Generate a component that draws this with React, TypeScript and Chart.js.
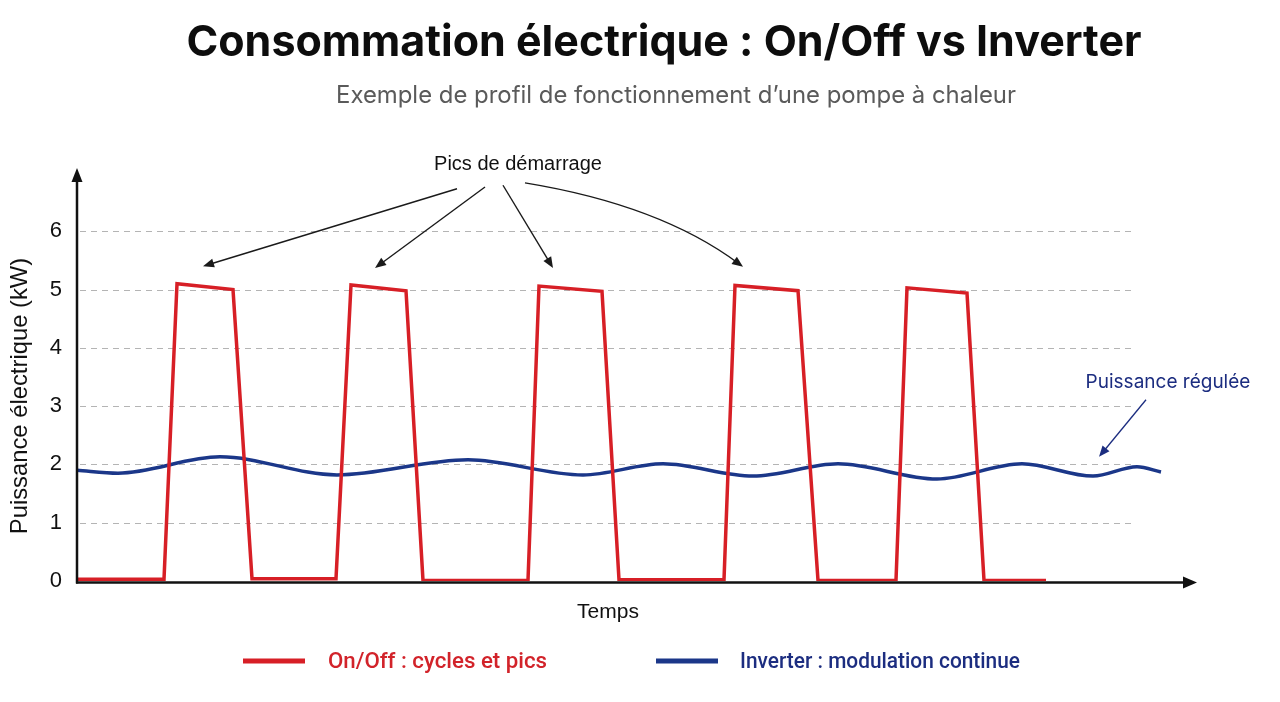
import React, { useEffect, useRef } from "react";
import { Chart, registerables } from "chart.js";

Chart.register(...registerables);

// ---------- texts ----------
const TITLE = "Consommation électrique : On/Off vs Inverter";
const SUBTITLE = "Exemple de profil de fonctionnement d’une pompe à chaleur";
const Y_TITLE = "Puissance électrique (kW)";
const X_TITLE = "Temps";
const ON_OFF_LABEL = "On/Off : cycles et pics";
const INVERTER_LABEL = "Inverter : modulation continue";
const PEAK_NOTE = "Pics de démarrage";
const REG_NOTE = "Puissance régulée";

// ---------- axes ----------
const Y_TICKS = [0, 1, 2, 3, 4, 5, 6];
const Y_MAX = 7;
const X_MAX = 111.8;

// ---------- series (time units, kW) ----------
const ON_OFF_T = [0, 8.7, 10.0, 15.6, 17.5, 25.9, 27.4, 32.9, 34.6, 45.1, 46.2, 52.5, 54.2, 64.7, 65.8, 72.1, 74.1, 81.9, 83.0, 89.0, 90.7, 96.9];
const ON_OFF_KW = [0.03, 0.03, 5.1, 5.0, 0.04, 0.04, 5.08, 4.98, 0.01, 0.01, 5.06, 4.97, 0.02, 0.02, 5.07, 4.98, 0.01, 0.01, 5.03, 4.94, 0.01, 0.01];

const INV_T = [0, 4.1, 14.3, 26.0, 39.1, 50.6, 58.6, 67.6, 76.1, 86.0, 94.5, 101.6, 106.0, 108.4];
const INV_KW = [1.9, 1.85, 2.13, 1.82, 2.08, 1.82, 2.01, 1.8, 2.01, 1.75, 2.01, 1.8, 1.96, 1.87];

// ---------- annotations (data units) ----------
const PEAK_NOTE_POS = [44.1, 7.14];
// [fromT, fromKW, toT, toKW, ctrlT|null, ctrlKW|null]
const PEAK_ARROWS = [
  [38.0, 6.73, 12.6, 5.4, null, null],
  [40.8, 6.76, 29.8, 5.37, null, null],
  [42.6, 6.79, 47.6, 5.37, null, null],
  [44.8, 6.83, 66.6, 5.39, 58.3, 6.45],
];
const REG_NOTE_POS = [109.1, 3.41];
const REG_ARROW = [106.9, 3.11, 102.2, 2.13];

const RED = "#d71f26";
const NAVY = "#1b3789";
const RED_TEXT = "#d2232a";
const NAVY_TEXT = "#1c2d80";

function arrowHead(ctx: CanvasRenderingContext2D, tx: number, ty: number, fx: number, fy: number, len: number, hw: number, color: string) {
  const a = Math.atan2(ty - fy, tx - fx);
  const bx = tx - Math.cos(a) * len;
  const by = ty - Math.sin(a) * len;
  const nx = -Math.sin(a) * hw;
  const ny = Math.cos(a) * hw;
  ctx.beginPath();
  ctx.moveTo(tx, ty);
  ctx.lineTo(bx + nx, by + ny);
  ctx.lineTo(bx - nx, by - ny);
  ctx.closePath();
  ctx.fillStyle = color;
  ctx.fill();
}

function fitText(ctx: CanvasRenderingContext2D, text: string, x: number, y: number, targetW: number) {
  const w = ctx.measureText(text).width;
  ctx.save();
  ctx.translate(x, y);
  ctx.scale(targetW / w, 1);
  ctx.fillText(text, 0, 0);
  ctx.restore();
}

const overlay = {
  id: "overlay",
  beforeDraw(chart: any) {
    const ctx = chart.ctx;
    ctx.save();
    ctx.fillStyle = "#ffffff";
    ctx.fillRect(0, 0, chart.width, chart.height);
    ctx.restore();
  },
  beforeDatasetsDraw(chart: any) {
    const ctx = chart.ctx;
    const xs = chart.scales.x;
    const ys = chart.scales.y;
    const left = chart.chartArea.left;
    const right = xs.getPixelForValue(105.6);
    ctx.save();
    ctx.strokeStyle = "#b4b4b4";
    ctx.lineWidth = 1;
    ctx.setLineDash([6, 5]);
    for (const v of Y_TICKS) {
      if (v === 0) continue;
      const y = Math.round(ys.getPixelForValue(v)) + 0.5;
      ctx.beginPath();
      ctx.moveTo(left + 3, y);
      ctx.lineTo(right, y);
      ctx.stroke();
    }
    ctx.restore();
  },
  afterDatasetsDraw(chart: any) {
    const ctx = chart.ctx;
    const xs = chart.scales.x;
    const ys = chart.scales.y;
    const ca = chart.chartArea;
    const px = (t: number) => xs.getPixelForValue(t);
    const py = (v: number) => ys.getPixelForValue(v);

    ctx.save();
    // axes with arrows
    const axisY = ca.bottom + 1.5;
    ctx.strokeStyle = "#111";
    ctx.lineWidth = 2.5;
    ctx.beginPath();
    ctx.moveTo(ca.left, axisY + 1);
    ctx.lineTo(ca.left, ca.top + 6);
    ctx.stroke();
    arrowHead(ctx, ca.left, ca.top - 5, ca.left, ca.top + 20, 14, 5.5, "#111");
    ctx.beginPath();
    ctx.moveTo(ca.left - 1, axisY);
    ctx.lineTo(ca.right - 8, axisY);
    ctx.stroke();
    arrowHead(ctx, ca.right + 2, axisY, ca.left, axisY, 14, 6, "#111");

    // peak annotation
    ctx.fillStyle = "#111";
    ctx.font = "20px 'Liberation Sans', Arial, sans-serif";
    ctx.textAlign = "center";
    ctx.textBaseline = "middle";
    ctx.fillText(PEAK_NOTE, px(PEAK_NOTE_POS[0]), py(PEAK_NOTE_POS[1]));
    ctx.strokeStyle = "#1a1a1a";
    ctx.lineWidth = 1.4;
    for (const a of PEAK_ARROWS) {
      const fx = px(a[0] as number), fy = py(a[1] as number);
      const tx = px(a[2] as number), ty = py(a[3] as number);
      let cx = fx, cy = fy;
      ctx.beginPath();
      ctx.moveTo(fx, fy);
      if (a[4] !== null) {
        cx = px(a[4] as number);
        cy = py(a[5] as number);
        const ang = Math.atan2(ty - cy, tx - cx);
        ctx.quadraticCurveTo(cx, cy, tx - Math.cos(ang) * 6, ty - Math.sin(ang) * 6);
      } else {
        const ang = Math.atan2(ty - fy, tx - fx);
        ctx.lineTo(tx - Math.cos(ang) * 6, ty - Math.sin(ang) * 6);
      }
      ctx.stroke();
      arrowHead(ctx, tx, ty, cx, cy, 11, 4.5, "#1a1a1a");
    }

    // regulated power annotation
    ctx.fillStyle = NAVY_TEXT;
    ctx.font = "19px Inter, 'Noto Sans', sans-serif";
    ctx.fillText(REG_NOTE, px(REG_NOTE_POS[0]), py(REG_NOTE_POS[1]));
    {
      const fx = px(REG_ARROW[0]), fy = py(REG_ARROW[1]);
      const tx = px(REG_ARROW[2]), ty = py(REG_ARROW[3]);
      const ang = Math.atan2(ty - fy, tx - fx);
      ctx.strokeStyle = NAVY_TEXT;
      ctx.lineWidth = 1.3;
      ctx.beginPath();
      ctx.moveTo(fx, fy);
      ctx.lineTo(tx - Math.cos(ang) * 6, ty - Math.sin(ang) * 6);
      ctx.stroke();
      arrowHead(ctx, tx, ty, fx, fy, 11, 4.5, NAVY_TEXT);
    }

    // axis titles
    ctx.fillStyle = "#111";
    ctx.font = "21px 'Liberation Sans', Arial, sans-serif";
    ctx.fillText(X_TITLE, 608, 612);
    ctx.save();
    ctx.translate(20, 396);
    ctx.rotate(-Math.PI / 2);
    ctx.font = "23.8px 'Liberation Sans', Arial, sans-serif";
    ctx.fillText(Y_TITLE, 0, 0);
    ctx.restore();

    // title / subtitle
    ctx.fillStyle = "#0d0d0d";
    ctx.font = "700 43px Inter, 'Noto Sans', sans-serif";
    ctx.fillText(TITLE, 664, 43);
    ctx.fillStyle = "#5a5a5a";
    ctx.font = "400 23.9px Inter, 'Noto Sans', sans-serif";
    ctx.fillText(SUBTITLE, 676, 96);

    // legend
    ctx.lineCap = "butt";
    ctx.lineWidth = 5;
    ctx.strokeStyle = RED;
    ctx.beginPath();
    ctx.moveTo(243, 661);
    ctx.lineTo(305, 661);
    ctx.stroke();
    ctx.strokeStyle = NAVY;
    ctx.beginPath();
    ctx.moveTo(656, 661);
    ctx.lineTo(718, 661);
    ctx.stroke();
    ctx.textAlign = "left";
    ctx.font = "500 22px Roboto, sans-serif";
    ctx.fillStyle = RED_TEXT;
    fitText(ctx, ON_OFF_LABEL, 328, 662, 219);
    ctx.fillStyle = NAVY_TEXT;
    fitText(ctx, INVERTER_LABEL, 740, 662, 280);

    ctx.restore();
  },
};

export default function App() {
  const ref = useRef<HTMLCanvasElement | null>(null);
  useEffect(() => {
    if (!ref.current) return;
    const chart = new Chart(ref.current, {
      type: "line",
      data: {
        datasets: [
          {
            label: ON_OFF_LABEL,
            data: ON_OFF_T.map((t, i) => ({ x: t, y: ON_OFF_KW[i] })),
            borderColor: RED,
            backgroundColor: RED,
            borderWidth: 3.5,
            pointRadius: 0,
            tension: 0,
            borderJoinStyle: "miter",
            fill: false,
          },
          {
            label: INVERTER_LABEL,
            data: INV_T.map((t, i) => ({ x: t, y: INV_KW[i] })),
            borderColor: NAVY,
            backgroundColor: NAVY,
            borderWidth: 3.5,
            pointRadius: 0,
            cubicInterpolationMode: "monotone",
            fill: false,
          },
        ],
      },
      options: {
        responsive: false,
        animation: false,
        layout: { padding: { top: 173, bottom: 121, left: 0, right: 85 } },
        plugins: {
          legend: { display: false },
          tooltip: { enabled: false },
          title: { display: false },
        },
        scales: {
          x: { type: "linear", min: 0, max: X_MAX, display: false },
          y: {
            type: "linear",
            min: 0,
            max: Y_MAX,
            grid: { display: false, drawTicks: false },
            border: { display: false },
            ticks: {
              stepSize: 1,
              padding: 15,
              color: "#111",
              font: { family: "'Liberation Sans', Arial, sans-serif", size: 22 },
            },
            afterBuildTicks: (s: any) => {
              s.ticks = Y_TICKS.map((v) => ({ value: v }));
            },
            afterFit: (s: any) => {
              s.width = 77;
            },
          },
        },
      } as any,
      plugins: [overlay],
    });
    return () => chart.destroy();
  }, []);
  return (
    <div style={{ position: "fixed", left: 0, top: 0, width: 1280, height: 702, background: "#fff" }}>
      <canvas ref={ref} width={1280} height={702} style={{ display: "block" }} />
    </div>
  );
}
